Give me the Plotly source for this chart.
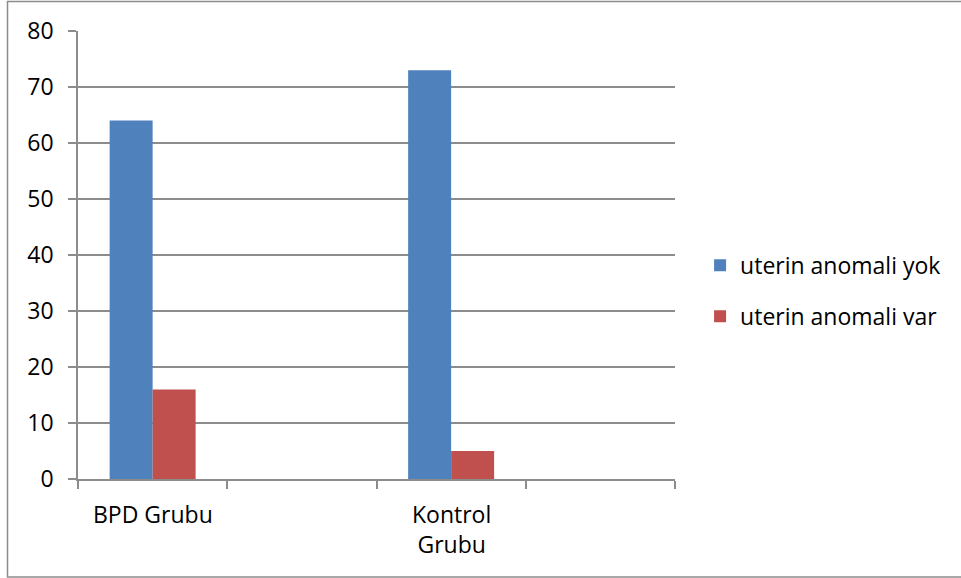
import plotly.graph_objects as go

categories = ["BPD Grubu", "", "Kontrol<br>Grubu", ""]
series_names = ["uterin anomali yok", "uterin anomali var"]
yok_values = [64, None, 73, None]
var_values = [16, None, 5, None]
y_ticks = [0, 10, 20, 30, 40, 50, 60, 70, 80]
colors = ["#4F81BD", "#C0504D"]

x_pos = list(range(len(categories)))
FONT = "Open Sans"
GRID = "#8C8C8C"

fig = go.Figure()
for name, vals, col, grp in [(series_names[0], yok_values, colors[0], "a"),
                             (series_names[1], var_values, colors[1], "b")]:
    fig.add_trace(go.Bar(x=x_pos, y=vals, name=name, marker_color=col,
                         marker_line_width=0, legendgroup=grp))

for xp, c in zip(x_pos, categories):
    if c:
        fig.add_annotation(x=xp, y=0, xref="x", yref="y", text=c, showarrow=False,
                           yanchor="top", yshift=-17, font=dict(family=FONT, size=23, color="#000"),
                           align="center")

fig.update_layout(
    width=961, height=578,
    margin=dict(l=78, r=286, t=31, b=99),
    paper_bgcolor="white", plot_bgcolor="white",
    barmode="group", bargap=0.424, bargroupgap=0,
    font=dict(family=FONT, size=23, color="#000"),
    legend=dict(x=1.042, xanchor="left", y=0.42, yanchor="middle",
                font=dict(family=FONT, size=23, color="#000"),
                tracegroupgap=18, bgcolor="rgba(0,0,0,0)"),
    showlegend=True,
)
fig.update_xaxes(range=[-0.5, 3.5], tickvals=[-0.5, 0.5, 1.5, 2.5, 3.5],
                 ticktext=["", "", "", "", ""], ticks="outside", ticklen=8,
                 tickcolor=GRID, tickwidth=1.5, showgrid=False, zeroline=False,
                 showline=True, linecolor=GRID, linewidth=1.5)
fig.update_yaxes(range=[0, 80], tickvals=y_ticks, ticks="outside", ticklen=8,
                 tickcolor=GRID, tickwidth=1.5, showgrid=True, gridcolor=GRID,
                 gridwidth=1.5, zeroline=False, showline=True, linecolor=GRID,
                 linewidth=1.5, ticklabelstandoff=10,
                 tickfont=dict(family=FONT, size=23, color="#000"))

fig.add_shape(type="rect", xref="paper", yref="paper",
              x0=(7.5 - 78) / 597, x1=(975 - 78) / 597,
              y0=(479 - 577) / 448, y1=(479 - 1.5) / 448,
              line=dict(color="#8C8C8C", width=1.5), layer="below")

fig.write_html("out.html")
